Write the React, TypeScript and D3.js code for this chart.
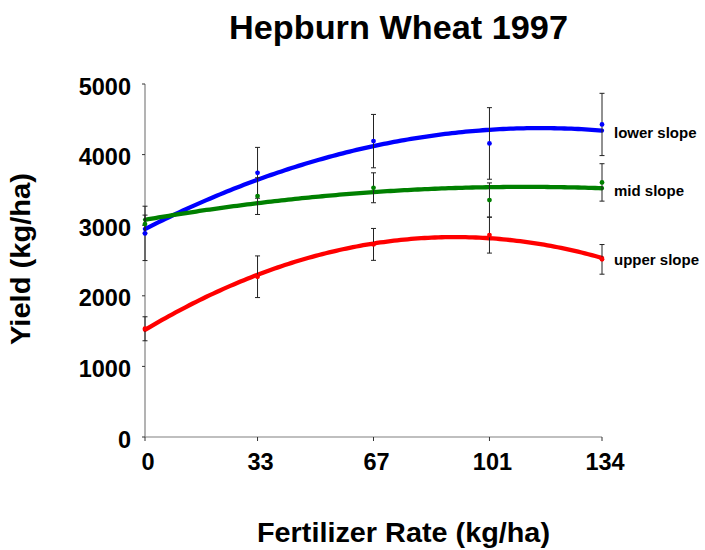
import React from "react";
import * as d3 from "d3";

const rates = [0, 33, 67, 101, 134];
const tickLabels = ["0", "33", "67", "101", "134"];
const yTicks = [0, 1000, 2000, 3000, 4000, 5000];

const lowerYield = [2884, 3742, 4191, 4158, 4427];
const lowerErr = [385, 360, 378, 507, 441];
const midYield = [3016, 3412, 3530, 3356, 3606];
const midErr = [127, 260, 212, 243, 265];
const upperYield = [1533, 2270, 2728, 2860, 2516];
const upperErr = [170, 295, 226, 255, 210];

const seriesNames = ["lower slope", "mid slope", "upper slope"];
const seriesColors = ["#0000FF", "#008000", "#FF0000"];

const W = 705;
const H = 550;
const FONT = "'Liberation Sans', Arial, Helvetica, sans-serif";

// least-squares quadratic fit (trendline, as in the original spreadsheet)
function quadFit(xs: number[], ys: number[]) {
  const n = xs.length;
  let s0 = n, s1 = 0, s2 = 0, s3 = 0, s4 = 0, t0 = 0, t1 = 0, t2 = 0;
  for (let i = 0; i < n; i++) {
    const x = xs[i], y = ys[i];
    s1 += x; s2 += x * x; s3 += x * x * x; s4 += x * x * x * x;
    t0 += y; t1 += x * y; t2 += x * x * y;
  }
  const M = [
    [s0, s1, s2, t0],
    [s1, s2, s3, t1],
    [s2, s3, s4, t2],
  ];
  for (let c = 0; c < 3; c++) {
    for (let r = c + 1; r < 3; r++) {
      const f = M[r][c] / M[c][c];
      for (let k = c; k < 4; k++) M[r][k] -= f * M[c][k];
    }
  }
  const coef = [0, 0, 0];
  for (let r = 2; r >= 0; r--) {
    let s = M[r][3];
    for (let k = r + 1; k < 3; k++) s -= M[r][k] * coef[k];
    coef[r] = s / M[r][r];
  }
  return (x: number) => coef[0] + coef[1] * x + coef[2] * x * x;
}

export default function App() {
  const x = d3.scaleLinear().domain([0, 134]).range([145, 602]);
  const y = d3.scaleLinear().domain([0, 5000]).range([437, 84]);

  const series = [
    { name: seriesNames[0], color: seriesColors[0], vals: lowerYield, errs: lowerErr },
    { name: seriesNames[1], color: seriesColors[1], vals: midYield, errs: midErr },
    { name: seriesNames[2], color: seriesColors[2], vals: upperYield, errs: upperErr },
  ];

  const samples = d3.range(0, 134.01, 1);
  const line = d3
    .line<[number, number]>()
    .x((d) => x(d[0]))
    .y((d) => y(d[1]))
    .curve(d3.curveLinear);

  return (
    <svg
      width={W}
      height={H}
      style={{ position: "absolute", left: 0, top: 0, background: "#fff" }}
      fontFamily={FONT}
    >
      <rect x={0} y={0} width={W} height={H} fill="#fff" />
      <text
        x={398.5}
        y={38.5}
        textAnchor="middle"
        fontSize={33}
        fontWeight="bold"
        textLength={339}
        lengthAdjust="spacingAndGlyphs"
      >
        Hepburn Wheat 1997
      </text>

      {/* y axis */}
      <line x1={x(0)} x2={x(0)} y1={y(5000)} y2={y(0)} stroke="#808080" strokeWidth={1.2} />
      {yTicks.map((t) => (
        <g key={t}>
          <line x1={x(0) - 3} x2={x(0)} y1={y(t)} y2={y(t)} stroke="#333" strokeWidth={1} />
          <text
            x={131}
            y={y(t) + 10.5}
            textAnchor="end"
            fontSize={23.5}
            fontWeight="bold"
          >
            {t}
          </text>
        </g>
      ))}

      {/* x axis */}
      <line x1={x(0)} x2={x(134)} y1={y(0)} y2={y(0)} stroke="#808080" strokeWidth={1.2} />
      {rates.map((r, i) => (
        <g key={r}>
          <line x1={x(r)} x2={x(r)} y1={y(0)} y2={y(0) + 4} stroke="#333" strokeWidth={1} />
          <text
            x={x(r) + 3}
            y={470}
            textAnchor="middle"
            fontSize={23.5}
            fontWeight="bold"
          >
            {tickLabels[i]}
          </text>
        </g>
      ))}

      <text
        x={403.5}
        y={541.5}
        textAnchor="middle"
        fontSize={28.5}
        fontWeight="bold"
        textLength={293}
        lengthAdjust="spacingAndGlyphs"
      >
        Fertilizer Rate (kg/ha)
      </text>
      <text
        transform={`translate(30,259) rotate(-90)`}
        textAnchor="middle"
        fontSize={28.5}
        fontWeight="bold"
        textLength={172}
        lengthAdjust="spacingAndGlyphs"
      >
        Yield (kg/ha)
      </text>

      {/* trend curves */}
      {series.map((s) => {
        const f = quadFit(rates, s.vals);
        const pts: [number, number][] = samples.map((v) => [v, f(v)]);
        return (
          <path
            key={s.name + "-c"}
            d={line(pts) || ""}
            fill="none"
            stroke={s.color}
            strokeWidth={4.3}
            strokeLinecap="round"
          />
        );
      })}

      {/* error bars */}
      {series.map((s) =>
        s.vals.map((v, i) => {
          const cx = x(rates[i]);
          const top = y(v + s.errs[i]);
          const bot = y(v - s.errs[i]);
          return (
            <g key={s.name + "-e" + i} stroke="#222" strokeWidth={1}>
              <line x1={cx} x2={cx} y1={top} y2={bot} />
              <line x1={cx - 2.5} x2={cx + 2.5} y1={top} y2={top} />
              <line x1={cx - 2.5} x2={cx + 2.5} y1={bot} y2={bot} />
            </g>
          );
        })
      )}

      {/* points */}
      {series.map((s) =>
        s.vals.map((v, i) => (
          <circle
            key={s.name + "-p" + i}
            cx={x(rates[i])}
            cy={y(v)}
            r={2.4}
            fill={s.color}
          />
        ))
      )}

      {/* series labels */}
      {series.map((s) => {
        const f = quadFit(rates, s.vals);
        return (
          <text
            key={s.name + "-l"}
            x={614}
            y={y(f(134)) + 7.5}
            fontSize={15}
            fontWeight="bold"
          >
            {s.name}
          </text>
        );
      })}
    </svg>
  );
}
